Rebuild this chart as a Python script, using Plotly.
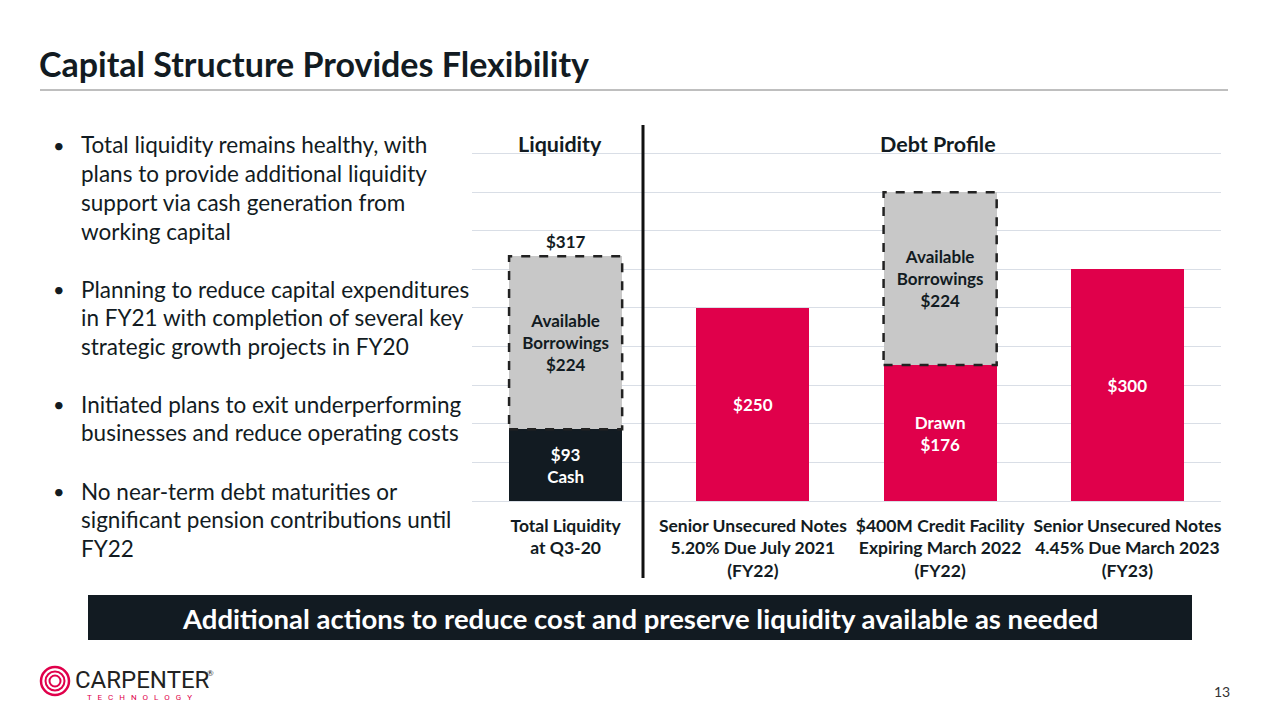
import plotly.graph_objects as go

W, H = 1280, 720
FONT = "Lato"
DARK = "#121b22"
RED = "#e0004b"
GRAY = "#c8c8c8"

# ---- data ----
categories = ["Total Liquidity<br>at Q3-20",
              "Senior Unsecured Notes<br>5.20% Due July 2021<br>(FY22)",
              "$400M Credit Facility<br>Expiring March 2022<br>(FY22)",
              "Senior Unsecured Notes<br>4.45% Due March 2023<br>(FY23)"]
cash = [93, None, None, None]
debt = [None, 250, 176, 300]
available = [224, None, 224, None]
cash_text = ["$93<br>Cash", "", "", ""]
debt_text = ["", "$250", "Drawn<br>$176", "$300"]
avail_text = ["Available<br>Borrowings<br>$224", "", "Available<br>Borrowings<br>$224", ""]
section_labels = ["Liquidity", "Debt Profile"]

title = "Capital Structure Provides Flexibility"
bullets = [
    ["Total liquidity remains healthy, with", "plans to provide additional liquidity",
     "support via cash generation from", "working capital"],
    ["Planning to reduce capital expenditures", "in FY21 with completion of several key",
     "strategic growth projects in FY20"],
    ["Initiated plans to exit underperforming", "businesses and reduce operating costs"],
    ["No near-term debt maturities or", "significant pension contributions until", "FY22"],
]
bullet_tops = [145, 289, 404, 491]
banner_text = "Additional actions to reduce cost and preserve liquidity available as needed"
page_no = "13"

def px(x):
    return x / W

def py(y):
    return 1 - y / H

def bold(lst):
    return [f"<b>{t}</b>" if t else "" for t in lst]

fig = go.Figure()
fig.add_trace(go.Bar(x=categories, y=cash, marker=dict(color=DARK, line=dict(width=0)),
                     text=bold(cash_text), textposition="inside", insidetextanchor="middle",
                     textfont=dict(color="white", size=17, family=FONT), name="Cash"))
fig.add_trace(go.Bar(x=categories, y=debt, marker=dict(color=RED, line=dict(width=0)),
                     text=bold(debt_text), textposition="inside", insidetextanchor="middle",
                     textfont=dict(color="white", size=17, family=FONT), name="Debt"))
fig.add_trace(go.Bar(x=categories, y=available, marker=dict(color=GRAY, line=dict(width=0)),
                     text=bold(avail_text), textposition="inside", insidetextanchor="middle",
                     textfont=dict(color=DARK, size=17, family=FONT), name="Available"))

bargap = 0.396
half = (1 - bargap) / 2
shapes = []
annotations = []

def ann(x, y, text, size, color=DARK, family=FONT, xanchor="center", yanchor="middle",
        xref="paper", yref="paper", **kw):
    annotations.append(dict(x=x, y=y, xref=xref, yref=yref, text=text, showarrow=False,
                            xanchor=xanchor, yanchor=yanchor,
                            font=dict(size=size, color=color, family=family), **kw))

# dashed outlines around available borrowings, derived from data
for i, a in enumerate(available):
    if a is None:
        continue
    base = (cash[i] or 0) + (debt[i] or 0)
    shapes.append(dict(type="rect", xref="x", yref="y", x0=i - half, x1=i + half,
                       y0=base, y1=base + a, line=dict(color="#222", width=2.5, dash="dash"),
                       fillcolor="rgba(0,0,0,0)", layer="above"))
# total above liquidity bar
total0 = cash[0] + available[0]
ann(0, total0, f"<b>${total0}</b>", 17, xref="x", yref="y", yanchor="bottom", yshift=2)
# section headers
ann(-0.03, py(144), f"<b>{section_labels[0]}</b>", 21.5, xref="x")
ann(1.99, py(144), f"<b>{section_labels[1]}</b>", 21.5, xref="x")

# title
ann(px(37), py(63), f"<b>{title}</b>", 34, xanchor="left")
shapes.append(dict(type="line", xref="paper", yref="paper", x0=px(40), x1=px(1228),
                   y0=py(90), y1=py(90), line=dict(color="#7f7f7f", width=1)))

# bullets
LH = 28.7
for top, lines in zip(bullet_tops, bullets):
    ann(px(51), py(top), "•", 20, xanchor="left")
    for k, ln in enumerate(lines):
        ann(px(79), py(top + k * LH), ln, 22.5, xanchor="left")

# divider line
shapes.append(dict(type="line", xref="paper", yref="paper", x0=px(643), x1=px(643),
                   y0=py(125), y1=py(578), line=dict(color="#111", width=3)))

# banner
shapes.append(dict(type="rect", xref="paper", yref="paper", x0=px(88), x1=px(1192),
                   y0=py(640), y1=py(595), fillcolor=DARK, line=dict(width=0)))
ann(px(640), py(618), f"<b>{banner_text}</b>", 27.5, color="white")

# logo
for r, w in [(14, 2.5), (9.5, 2), (5.5, 2)]:
    shapes.append(dict(type="circle", xref="paper", yref="paper",
                       x0=px(55 - r), x1=px(55 + r), y0=py(681 + r), y1=py(681 - r),
                       line=dict(color=RED, width=w)))
ann(px(73), py(680), "CARPENTER", 24, color="#222", family="Liberation Sans Narrow, Roboto",
    xanchor="left")
ann(px(85), py(697), "T   E   C   H   N   O   L   O   G   Y", 8, color=RED, family="Roboto",
    xanchor="left")
ann(px(205), py(673), "®", 8, color="#222", xanchor="left")
ann(px(1222), py(691), page_no, 14, color="#333")

fig.update_layout(
    width=W, height=H, margin=dict(l=0, r=0, t=0, b=0),
    paper_bgcolor="white", plot_bgcolor="white",
    barmode="stack", bargap=bargap, showlegend=False,
    font=dict(family=FONT, color=DARK),
    xaxis=dict(domain=[px(472), px(1221)], showgrid=False, showline=False, zeroline=False,
               ticks="", ticklabelstandoff=12,
               tickfont=dict(size=17.5, color=DARK, family=FONT)),
    yaxis=dict(domain=[py(501), py(152)], range=[0, 452], tickvals=list(range(0, 451, 50)),
               showticklabels=False,
               showgrid=True, gridcolor="#d9dee6", gridwidth=1.3, zeroline=True,
               zerolinecolor="#d9dee6", zerolinewidth=1.3, showline=False),
    shapes=shapes, annotations=annotations,
)
fig.update_xaxes(tickprefix="<b>", ticksuffix="</b>")
fig.write_html("out.html", config={"displayModeBar": False},
               post_script="document.body.style.margin='0';")
